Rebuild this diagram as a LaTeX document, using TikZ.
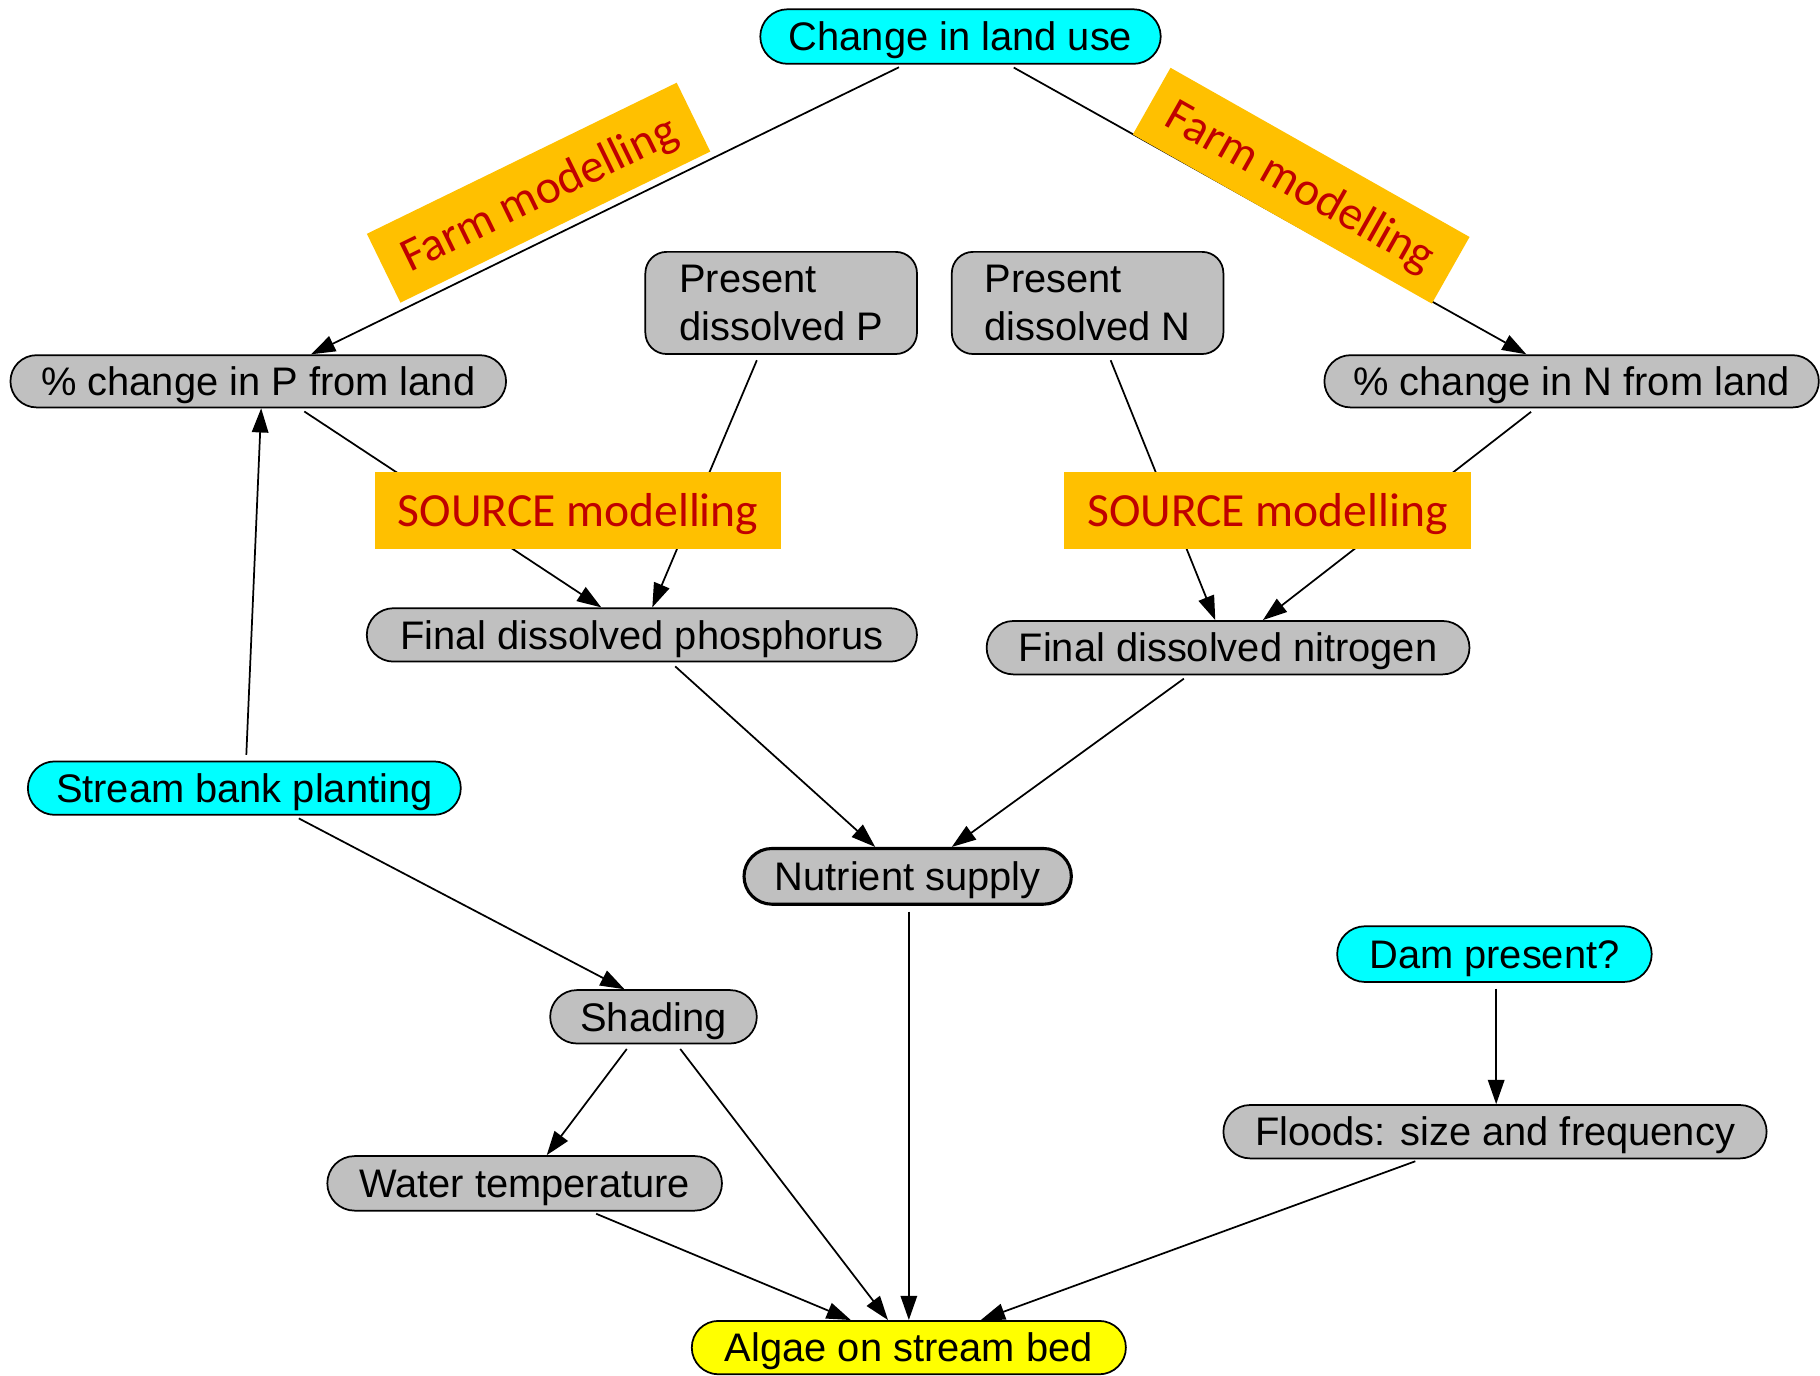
\documentclass[tikz,border=0pt]{standalone}
\usepackage{fontspec}
\setmainfont{Liberation Sans}
\newfontfamily\carlito{Carlito}
\usetikzlibrary{arrows.meta,calc}
\definecolor{cyanbox}{HTML}{00FFFF}
\definecolor{graybox}{HTML}{C0C0C0}
\definecolor{yellowbox}{HTML}{FFFF00}
\definecolor{orangelab}{HTML}{FFC000}
\definecolor{redtext}{HTML}{C00000}
\begin{document}
\begin{tikzpicture}[x=0.6pt,y=-0.6pt,
  basebox/.style={draw, line width=0.9pt, inner sep=0pt,
    font=\fontsize{20.6pt}{25pt}\selectfont},
  box/.style={basebox, rounded corners=13.8pt, minimum height=27.6pt,
    text height=14.7pt, text depth=0pt},
  gbox/.style={box, fill=graybox},
  cbox/.style={box, fill=cyanbox},
  pbox/.style={basebox, fill=graybox, align=left, rounded corners=11pt,
    minimum width=140.4pt, minimum height=52.8pt},
  lab/.style={fill=orangelab, text=redtext, inner sep=0pt,
    font=\carlito\fontsize{24.6pt}{29pt}\selectfont,
    minimum height=39.6pt, text height=15.8pt, text depth=0pt},
  arr/.style={line width=0.9pt, -{Triangle[length=12.5pt,width=8.5pt]},
    shorten <=3pt},
]
\useasboundingbox (0,0) rectangle (1568,1185);

% nodes
\node[cbox, minimum width=207pt, minimum height=28.2pt, rounded corners=14.1pt] (chg) at (827.5,31.5) {Change in land use};
\node[gbox, minimum width=256.2pt, minimum height=27pt, rounded corners=13.5pt] (pP) at (222.5,328.5) {\% change in P from land};
\node[gbox, minimum width=255.6pt, minimum height=27pt, rounded corners=13.5pt] (pN) at (1354,328.5) {\% change in N from land};
\node[pbox] (prP) at (673,261) {Present\\dissolved P};
\node[pbox] (prN) at (937,261) {Present\\dissolved N};
\node[gbox, minimum width=284.4pt] (fP) at (553,547) {Final dissolved phosphorus};
\node[gbox, minimum width=249.6pt] (fN) at (1058,558) {Final dissolved nitrogen};
\node[cbox, minimum width=223.8pt] (sb) at (210.5,679) {Stream bank planting};
\node[gbox, minimum width=169.2pt, minimum height=28.8pt, rounded corners=14.4pt, line width=1.6pt] (nut) at (782,755) {Nutrient supply};
\node[cbox, minimum width=162.6pt, minimum height=28.8pt, rounded corners=14.4pt] (dam) at (1287.5,822) {Dam present?};
\node[gbox, minimum width=106.8pt] (sh) at (563,876) {Shading};
\node[gbox, minimum width=280.8pt] (fl) at (1288,975) {Floods: size and frequency};
\node[gbox, minimum width=204pt, minimum height=28.2pt, rounded corners=14.1pt] (wt) at (452,1019.5) {Water temperature};
\node[box, fill=yellowbox, minimum width=224.4pt] (alg) at (783,1161) {Algae on stream bed};

% connectors
\draw[arr] ($(chg.south)+(-48.5,0)$) -- ($(pP.north)+(45.5,0)$);
\draw[arr] ($(chg.south)+(41.5,0)$) -- ($(pN.north)+(-39,0)$);
\draw[arr] ($(pP.south)+(35.5,0)$) -- ($(fP.north)+(-35,0)$);
\draw[arr] ($(prP.south)+(-19,0)$) -- ($(fP.north)+(9,0)$);
\draw[arr] ($(prN.south)+(18,0)$) -- ($(fN.north)+(-11,0)$);
\draw[arr] ($(pN.south)+(-31,0)$) -- ($(fN.north)+(30,0)$);
\draw[arr] ($(fP.south)+(25,0)$) -- ($(nut.north)+(-28,0)$);
\draw[arr] ($(fN.south)+(-34,0)$) -- ($(nut.north)+(38,0)$);
\draw[arr] ($(sb.north)+(1.5,0)$) -- ($(pP.south)+(2.5,0)$);
\draw[arr] ($(sb.south)+(42.5,0)$) -- ($(sh.north)+(-25,0)$);
\draw[arr] ($(nut.south)+(1,0)$) -- ($(alg.north)+(0,0)$);
\draw[arr] ($(dam.south)+(1.5,0)$) -- ($(fl.north)+(1,0)$);
\draw[arr] ($(sh.south)+(-20,0)$) -- ($(wt.north)+(19,0)$);
\draw[arr] ($(sh.south)+(20,0)$) -- ($(alg.north)+(-18,0)$);
\draw[arr] ($(wt.south)+(57,0)$) -- ($(alg.north)+(-50,0)$);
\draw[arr] ($(fl.south)+(-64,0)$) -- ($(alg.north)+(62,0)$);

% labels on top
\node[lab, minimum width=210pt] (srcP) at (498,440) {SOURCE modelling};
\node[lab, minimum width=210pt] (srcN) at (1092,440) {SOURCE modelling};
\node[lab, minimum width=178.2pt, rotate=26] (farmP) at (464,166) {Farm modelling};
\node[lab, minimum width=177.6pt, rotate=-29.5] (farmN) at (1121,160) {Farm modelling};
\end{tikzpicture}
\end{document}
